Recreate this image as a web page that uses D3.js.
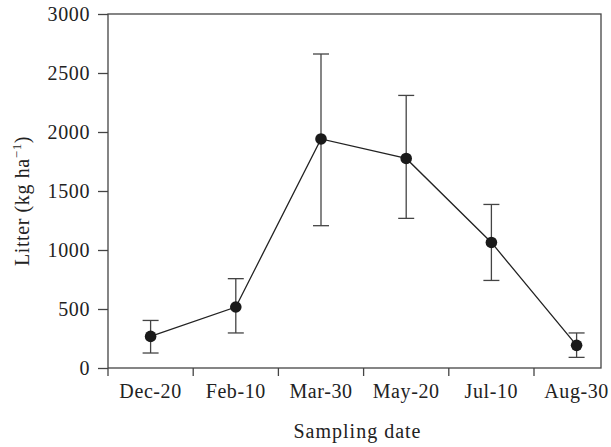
<!DOCTYPE html>
<html>
<head>
<meta charset="utf-8">
<script src="https://cdn.jsdelivr.net/npm/d3@7"></script>
<style>
  body { margin: 0; background: #fff; }
  svg text { font-family: "Liberation Serif", "DejaVu Serif", serif; fill: #222; letter-spacing: 0.6px; }
</style>
</head>
<body>
<div id="chart"></div>
<script>
const dates = ['Dec-20', 'Feb-10', 'Mar-30', 'May-20', 'Jul-10', 'Aug-30'];
const litter = [268, 517, 1941, 1776, 1064, 192];
const errUpper = [403, 757, 2661, 2310, 1386, 297];
const errLower = [127, 297, 1206, 1268, 742, 90];
const yTicks = [0, 500, 1000, 1500, 2000, 2500, 3000];

const w = 611;
const h = 447;
const plotL = 108, plotR = 601, plotT = 14, plotB = 368;
const step = 85.2;

const svg = d3.select('#chart')
    .append('svg')
    .attr('width', w)
    .attr('height', h);

const x = d3.scaleBand()
    .domain(dates)
    .range([plotL, plotL + step * dates.length])
    .padding(0);

const y = d3.scaleLinear()
    .domain([0, 3000])
    .range([plotB, plotT]);

const axisColor = '#444';

// frame
svg.append('rect')
    .attr('x', plotL)
    .attr('y', plotT)
    .attr('width', plotR - plotL)
    .attr('height', plotB - plotT)
    .attr('fill', 'none')
    .attr('stroke', axisColor)
    .attr('stroke-width', 1.3);

// y axis
const yAxis = svg.append('g')
    .attr('transform', `translate(${plotL},0)`)
    .call(d3.axisLeft(y).tickValues(yTicks).tickSize(10).tickPadding(8).tickFormat(d3.format('d')));
yAxis.select('.domain').remove();
yAxis.selectAll('line').attr('stroke', axisColor).attr('stroke-width', 1.3);
yAxis.selectAll('text').style('font-size', '20px').style('font-family', null).attr('fill', '#222');

// x axis: ticks at band boundaries, labels at centers
const xAxis = svg.append('g')
    .attr('transform', `translate(0,${plotB})`);
xAxis.selectAll('line')
    .data(dates)
    .enter()
    .append('line')
    .attr('x1', d => x(d))
    .attr('x2', d => x(d))
    .attr('y1', 0)
    .attr('y2', 8)
    .attr('stroke', axisColor)
    .attr('stroke-width', 1.3);
xAxis.selectAll('text')
    .data(dates)
    .enter()
    .append('text')
    .attr('x', d => x(d) + x.bandwidth() / 2)
    .attr('y', 30)
    .attr('text-anchor', 'middle')
    .style('font-size', '20px')
    .text(d => d);

// axis titles
svg.append('text')
    .attr('x', (plotL + plotR) / 2 + 3)
    .attr('y', 438)
    .attr('text-anchor', 'middle')
    .style('font-size', '20px')
    .style('letter-spacing', '1px')
    .text('Sampling date');

const yTitle = svg.append('text')
    .attr('transform', `translate(29,201) rotate(-90)`)
    .attr('text-anchor', 'middle')
    .style('font-size', '20px');
yTitle.append('tspan').text('Litter (kg ha');
yTitle.append('tspan').attr('dy', -8).style('font-size', '13px').text('\u22121');
yTitle.append('tspan').attr('dy', 8).text(')');

const cx = d => x(d) + x.bandwidth() / 2;

// error bars
const eb = svg.append('g').attr('stroke', axisColor).attr('stroke-width', 1.3);
dates.forEach((d, i) => {
    eb.append('line')
        .attr('x1', cx(d)).attr('x2', cx(d))
        .attr('y1', y(errUpper[i])).attr('y2', y(errLower[i]));
    [errUpper[i], errLower[i]].forEach(v => {
        eb.append('line')
            .attr('x1', cx(d) - 8).attr('x2', cx(d) + 8)
            .attr('y1', y(v)).attr('y2', y(v));
    });
});

// line
svg.append('path')
    .datum(dates)
    .attr('fill', 'none')
    .attr('stroke', '#222')
    .attr('stroke-width', 1.3)
    .attr('d', d3.line().x(d => cx(d)).y((d, i) => y(litter[i])));

// points
svg.selectAll('circle')
    .data(dates)
    .enter()
    .append('circle')
    .attr('cx', d => cx(d))
    .attr('cy', (d, i) => y(litter[i]))
    .attr('r', 5.8)
    .attr('fill', '#1a1a1a');
</script>
</body>
</html>
